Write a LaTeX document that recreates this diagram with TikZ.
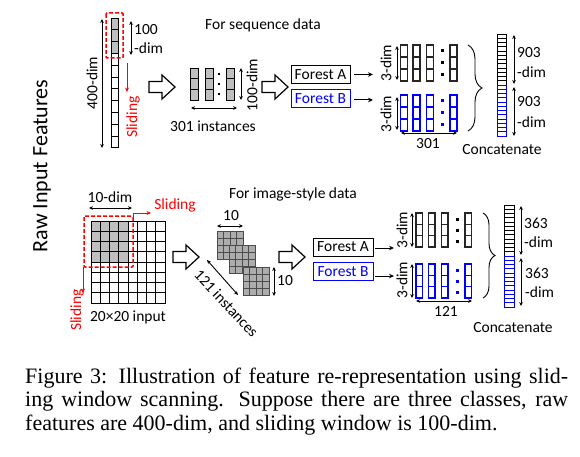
\documentclass[tikz,border=0pt]{standalone}
\usepackage{fontspec}
\setmainfont{Carlito}
\newfontfamily\capfont{Liberation Serif}
\usetikzlibrary{arrows.meta,decorations.pathreplacing,positioning}

\begin{document}
\begin{tikzpicture}[x=1pt,y=-1pt,
  every node/.style={font=\fontsize{15.5}{17}\selectfont, inner sep=0pt},
  dimarr/.style={{Stealth[length=4pt,width=3.6pt]}-{Stealth[length=4pt,width=3.6pt]}, line width=0.9pt},
  slidearr/.style={-{Stealth[length=4.5pt,width=4pt]}, red, line width=1pt},
  window/.style={red, dash pattern=on 4pt off 2pt, line width=1.5pt, rounded corners=1pt},
  forestbox/.style={draw, line width=0.9pt, minimum width=59pt, minimum height=18pt, inner sep=1pt},
  cellgray/.style={fill=black!25},
  patchgray/.style={fill=black!32},
  ]
  \newcommand{\hollowarrow}[2]{%
    \draw[line width=1.2pt] (#1,#2-5.5) -- ++(13,0) -- ++(0,-6.5) -- (#1+26,#2)
      -- (#1+13,#2+12) -- ++(0,-6.5) -- (#1,#2+5.5) -- cycle;}
  \newcommand{\probvec}[5]{%
    \foreach \x in {#1}
      \foreach \j in {0,1,2}
        \draw[#5, line width=1.4pt] (\x,#2+\j*#4) rectangle ++(#3,#4);}
  \fill[white] (0,0) rectangle (580,457);
  \useasboundingbox (0,0) rectangle (580,457);

  \node[font=\fontsize{22}{24}\selectfont, rotate=90] (raw) at (42,166) {Raw Input Features};

  % sequence data
  \node (seqtitle) at (263,25) {For sequence data};
  \fill[cellgray] (111,18) rectangle (118,53.4);
  \foreach \i in {0,...,10}
    \draw[line width=0.9pt] (111,18+\i*11.8) rectangle ++(7,11.8);
  \draw[window] (106,13) rectangle (123,58);
  \draw[dimarr] (102,19) -- (102,148);
  \node[rotate=90] (dim400) at (92,83) {400-dim};
  \draw[dimarr] (131,21) -- (131,55);
  \node[anchor=west] (win100) at (134,30) {100};
  \node[anchor=west] (win100b) at (134,48) {-dim};
  \draw[slidearr] (127,63) -- (127,92);
  \node[rotate=90, red] (slideA) at (133,117) {Sliding};
  \hollowarrow{149}{87}
  \foreach \x in {190,205,226}{
    \fill[cellgray] (\x,68) rectangle ++(8,32);
    \foreach \j in {0,1,2}
      \draw[line width=0.9pt] (\x,68+\j*10.67) rectangle ++(8,10.67);
  }
  \foreach \y in {74,84,94}
    \fill (218,\y-1.2) rectangle ++(2.4,2.4);
  \draw[dimarr] (241,68) -- (241,100);
  \node[rotate=90] (inst100) at (252,85) {100-dim};
  \draw[dimarr] (191,108) -- (237,108);
  \node (inst301) at (213,126) {301 instances};
  \hollowarrow{262}{87}
  \node[forestbox] (forA) at (320.5,74.5) {Forest A};
  \node[forestbox, blue] (forB) at (320.5,98.5) {Forest B};
  \coordinate (vecA) at (373,74.5);
  \coordinate (vecB) at (373,100);
  \draw[-{Stealth[length=5pt,width=4.5pt]}, line width=1pt] (forA.east) ++(4,0) -- (vecA);
  \draw[-{Stealth[length=5pt,width=4.5pt]}, line width=1pt] (forB.east) ++(4,1.5) -- (vecB);
  \probvec{400.5,413,426.5,450}{45}{7}{12}{black!85}
  \probvec{400.5,413,426.5,450}{95}{7}{12}{blue}
  \foreach \y in {51,63,75}
    \fill (440.5,\y-1.5) rectangle ++(3,3);
  \foreach \y in {101,113,125}
    \fill[blue] (440.5,\y-1.5) rectangle ++(3,3);
  \draw[dimarr] (397,46) -- (397,80);
  \draw[dimarr] (397,97) -- (397,130);
  \node[rotate=90] (clsA) at (386,63) {3-dim};
  \node[rotate=90] (clsB) at (386,114) {3-dim};
  \draw[dimarr] (401,133) -- (457,133);
  \node (cls301) at (428,144) {301};
  \draw[line width=0.9pt, decorate, decoration={brace, amplitude=14pt}] (468,45) -- (468,131);
  \foreach \j in {0,...,11}
    \draw[line width=0.8pt] (497,34+\j*4.25) rectangle ++(9,4.25);
  \foreach \j in {0,...,11}
    \draw[blue, line width=0.8pt] (497,85+\j*4.25) rectangle ++(9,4.25);
  \draw[dimarr] (514,35) -- (514,84);
  \draw[dimarr] (514,87) -- (514,136);
  \node[anchor=west] (catA) at (517,53) {903};
  \node[anchor=west] (catAd) at (517,72) {-dim};
  \node[anchor=west] (catB) at (517,102) {903};
  \node[anchor=west] (catBd) at (517,122) {-dim};
  \node (concatA) at (502,150) {Concatenate};

  % image-style data
  \node (imgtitle) at (293,194) {For image-style data};
  \fill[cellgray] (91,221) rectangle (128,262);
  \foreach \i in {0,...,7}
    \foreach \j in {0,...,7}
      \draw[line width=0.9pt] (91+\i*9.25,221+\j*10.25) rectangle ++(9.25,10.25);
  \draw[window] (84,216) rectangle (133,267);
  \draw[dimarr] (89,208) -- (132,208);
  \node (dim10) at (110,197) {10-dim};
  \draw[slidearr] (133,217) -- (133,213) -- (151,213);
  \node[red] (slideB) at (175,205) {Sliding};
  \draw[slidearr] (83,267) -- (83,293);
  \node[rotate=90, red] (slideC) at (77,310) {Sliding};
  \node (input) at (128,317) {20×20 input};
  \hollowarrow{173}{257}
  \foreach \px/\py in {217/231,229/245,243/267}{
    \fill[patchgray] (\px,\py) rectangle ++(26,28);
    \foreach \i in {0,...,3}
      \foreach \j in {0,...,3}
        \draw[black!70, line width=0.8pt] (\px+\i*6.5,\py+\j*7) rectangle ++(6.5,7);
  }
  \draw[dimarr] (217,226) -- (243,226);
  \node (patch10a) at (231,216) {10};
  \draw[dimarr] (274,267) -- (274,296);
  \node[anchor=west] (patch10b) at (277,281) {10};
  \draw[dimarr] (207,260) -- (238,295);
  \node[rotate=-47] (inst121) at (226.5,303.5) {121 instances};
  \hollowarrow{279}{257}
  \node[forestbox, minimum width=60pt] (forC) at (343,247) {Forest A};
  \node[forestbox, minimum width=60pt, blue] (forD) at (343,271.5) {Forest B};
  \coordinate (vecC) at (394,248);
  \coordinate (vecD) at (394,276);
  \draw[-{Stealth[length=5pt,width=4.5pt]}, line width=1pt] (forC.east) ++(2,1) -- (vecC);
  \draw[-{Stealth[length=5pt,width=4.5pt]}, line width=1pt] (forD.east) ++(2,4.5) -- (vecD);
  \probvec{416,428.5,441.5,465}{213}{6.5}{11.3}{black!85}
  \probvec{416,428.5,441.5,465}{264}{6.5}{11.3}{blue}
  \foreach \y in {219,230,241}
    \fill (455.5,\y-1.5) rectangle ++(3,3);
  \foreach \y in {270,281,292}
    \fill[blue] (455.5,\y-1.5) rectangle ++(3,3);
  \draw[dimarr] (412,213) -- (412,247);
  \draw[dimarr] (412,264) -- (412,298);
  \node[rotate=90] (clsC) at (402,230) {3-dim};
  \node[rotate=90] (clsD) at (402,280) {3-dim};
  \draw[dimarr] (416,301) -- (472,301);
  \node (cls121) at (446,311) {121};
  \draw[line width=0.9pt, decorate, decoration={brace, amplitude=12pt}] (483,213) -- (483,298);
  \foreach \j in {0,...,11}
    \draw[line width=0.8pt] (504,205+\j*4.25) rectangle ++(10,4.25);
  \foreach \j in {0,...,11}
    \draw[blue, line width=0.8pt] (504,256+\j*4.25) rectangle ++(10,4.25);
  \draw[dimarr] (521,206) -- (521,255);
  \draw[dimarr] (521,258) -- (521,306);
  \node[anchor=west] (catC) at (524,223) {363};
  \node[anchor=west] (catCd) at (524,242) {-dim};
  \node[anchor=west] (catD) at (525,273) {363};
  \node[anchor=west] (catDd) at (525,292) {-dim};
  \node (concatB) at (513,328) {Concatenate};

  % caption
  \node[anchor=base west, font=\capfont\fontsize{22}{24}\selectfont] (cap1) at (25,383)
    {\hbox to 543pt{Figure 3: Illustration of feature re-representation using slid-}};
  \node[anchor=base west, font=\capfont\fontsize{22}{24}\selectfont] (cap2) at (25,406.5)
    {\hbox to 543pt{ing window scanning.  Suppose there are three classes, raw}};
  \node[anchor=base west, font=\capfont\fontsize{22}{24}\selectfont] (cap3) at (25,430)
    {features are 400-dim, and sliding window is 100-dim.};
\end{tikzpicture}
\end{document}
